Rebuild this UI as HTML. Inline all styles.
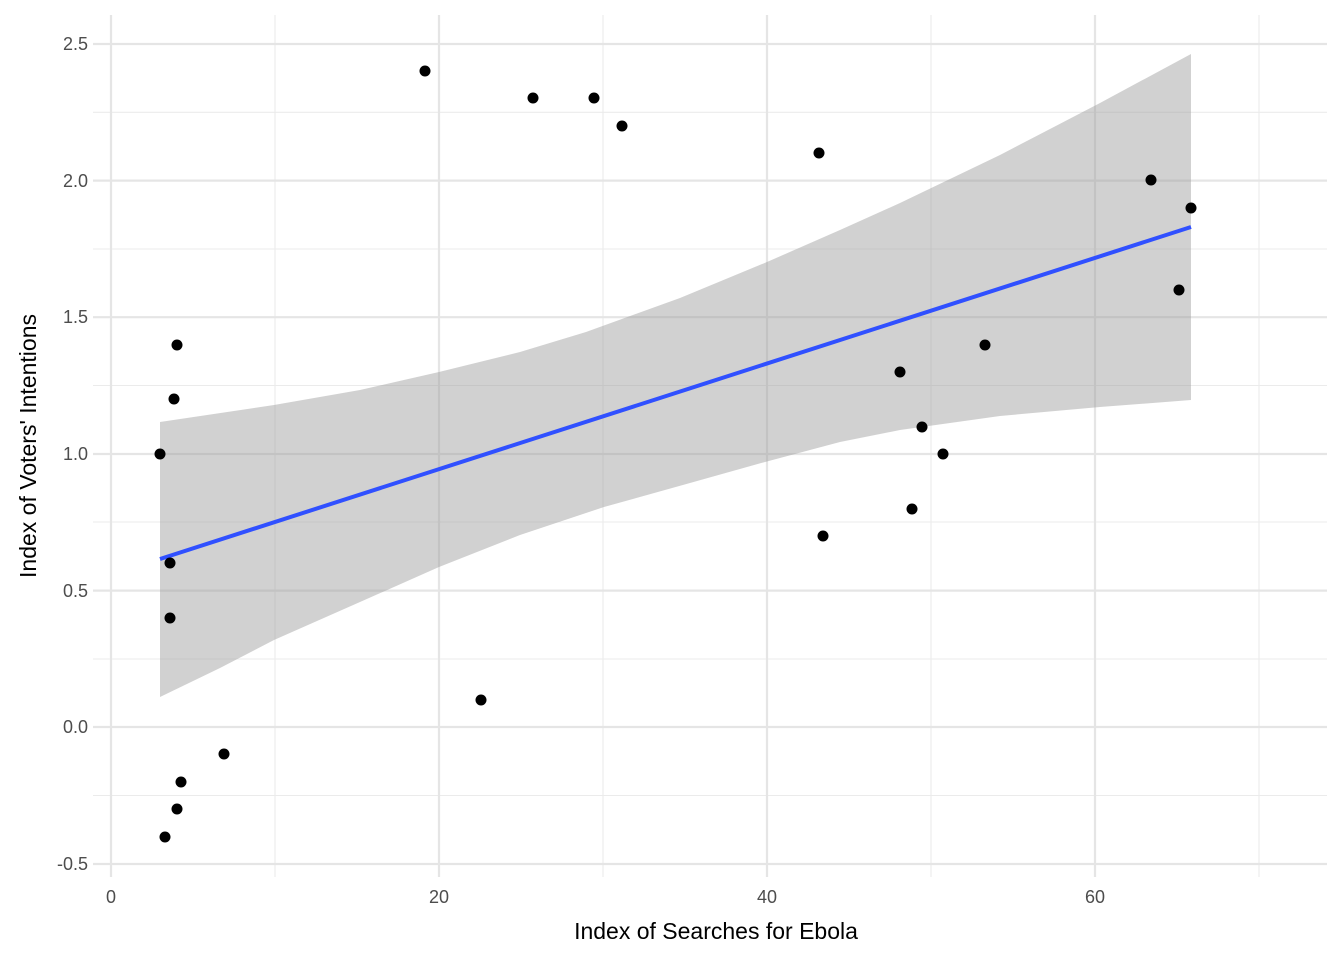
<!DOCTYPE html>
<html><head><meta charset="utf-8"><style>
html,body{margin:0;padding:0;background:#fff}
svg{display:block;font-family:"Liberation Sans",Arial,sans-serif}
</style></head><body>
<svg width="1344" height="960" viewBox="0 0 1344 960" xmlns="http://www.w3.org/2000/svg">
<g stroke="#ebebeb" stroke-width="1.1">
<line x1="275" y1="15" x2="275" y2="877"/><line x1="603" y1="15" x2="603" y2="877"/>
<line x1="931" y1="15" x2="931" y2="877"/><line x1="1259" y1="15" x2="1259" y2="877"/>
<line x1="93" y1="112.3" x2="1327" y2="112.3"/><line x1="93" y1="249" x2="1327" y2="249"/>
<line x1="93" y1="385.5" x2="1327" y2="385.5"/><line x1="93" y1="522" x2="1327" y2="522"/>
<line x1="93" y1="659" x2="1327" y2="659"/><line x1="93" y1="795.5" x2="1327" y2="795.5"/>
</g>
<g stroke="#e5e5e5" stroke-width="2.2">
<line x1="111" y1="15" x2="111" y2="877"/><line x1="439" y1="15" x2="439" y2="877"/>
<line x1="767" y1="15" x2="767" y2="877"/><line x1="1095" y1="15" x2="1095" y2="877"/>
<line x1="93" y1="44" x2="1327" y2="44"/><line x1="93" y1="180.6" x2="1327" y2="180.6"/>
<line x1="93" y1="317.2" x2="1327" y2="317.2"/><line x1="93" y1="454" x2="1327" y2="454"/>
<line x1="93" y1="590.6" x2="1327" y2="590.6"/><line x1="93" y1="727" x2="1327" y2="727"/>
<line x1="93" y1="864" x2="1327" y2="864"/>
</g>
<path d="M160,422 L274,405 L360,390 L439,372 L520,352 L586,332 L680,298 L767,262 L840,230 L900,203 L1000,155 L1100,103 L1191,54 L1191,400 L1100,407 L1000,416 L900,430 L840,442 L765,462 L690,483 L604,507 L520,535 L439,567 L360,602 L274,640 L220,668 L160,697 Z" fill="#999" fill-opacity="0.45"/>
<line x1="160" y1="559" x2="1191" y2="227" stroke="#3050ff" stroke-width="4"/>
<g fill="#000">
<circle cx="160" cy="454" r="5.5"/><circle cx="165" cy="837" r="5.5"/><circle cx="170" cy="563" r="5.5"/>
<circle cx="170" cy="618" r="5.5"/><circle cx="174" cy="399" r="5.5"/><circle cx="177" cy="345" r="5.5"/>
<circle cx="177" cy="809" r="5.5"/><circle cx="181" cy="782" r="5.5"/><circle cx="224" cy="754" r="5.5"/>
<circle cx="425" cy="71" r="5.5"/><circle cx="481" cy="700" r="5.5"/><circle cx="533" cy="98" r="5.5"/>
<circle cx="594" cy="98" r="5.5"/><circle cx="622" cy="126" r="5.5"/><circle cx="819" cy="153" r="5.5"/>
<circle cx="823" cy="536" r="5.5"/><circle cx="900" cy="372" r="5.5"/><circle cx="912" cy="509" r="5.5"/>
<circle cx="922" cy="427" r="5.5"/><circle cx="943" cy="454" r="5.5"/><circle cx="985" cy="345" r="5.5"/>
<circle cx="1151" cy="180" r="5.5"/><circle cx="1179" cy="290" r="5.5"/><circle cx="1191" cy="208" r="5.5"/>
</g>
<g fill="#4d4d4d" font-size="18" text-anchor="end">
<text x="88" y="50">2.5</text><text x="88" y="187">2.0</text><text x="88" y="323">1.5</text>
<text x="88" y="460">1.0</text><text x="88" y="597">0.5</text><text x="88" y="733">0.0</text><text x="88" y="870">-0.5</text>
</g>
<g fill="#4d4d4d" font-size="18" text-anchor="middle">
<text x="111" y="903">0</text><text x="439" y="903">20</text><text x="767" y="903">40</text><text x="1095" y="903">60</text>
</g>
<text x="716" y="939" font-size="23" text-anchor="middle" fill="#000">Index of Searches for Ebola</text>
<text transform="translate(36,446) rotate(-90)" font-size="23" text-anchor="middle" fill="#000">Index of Voters' Intentions</text>
</svg>
</body></html>
